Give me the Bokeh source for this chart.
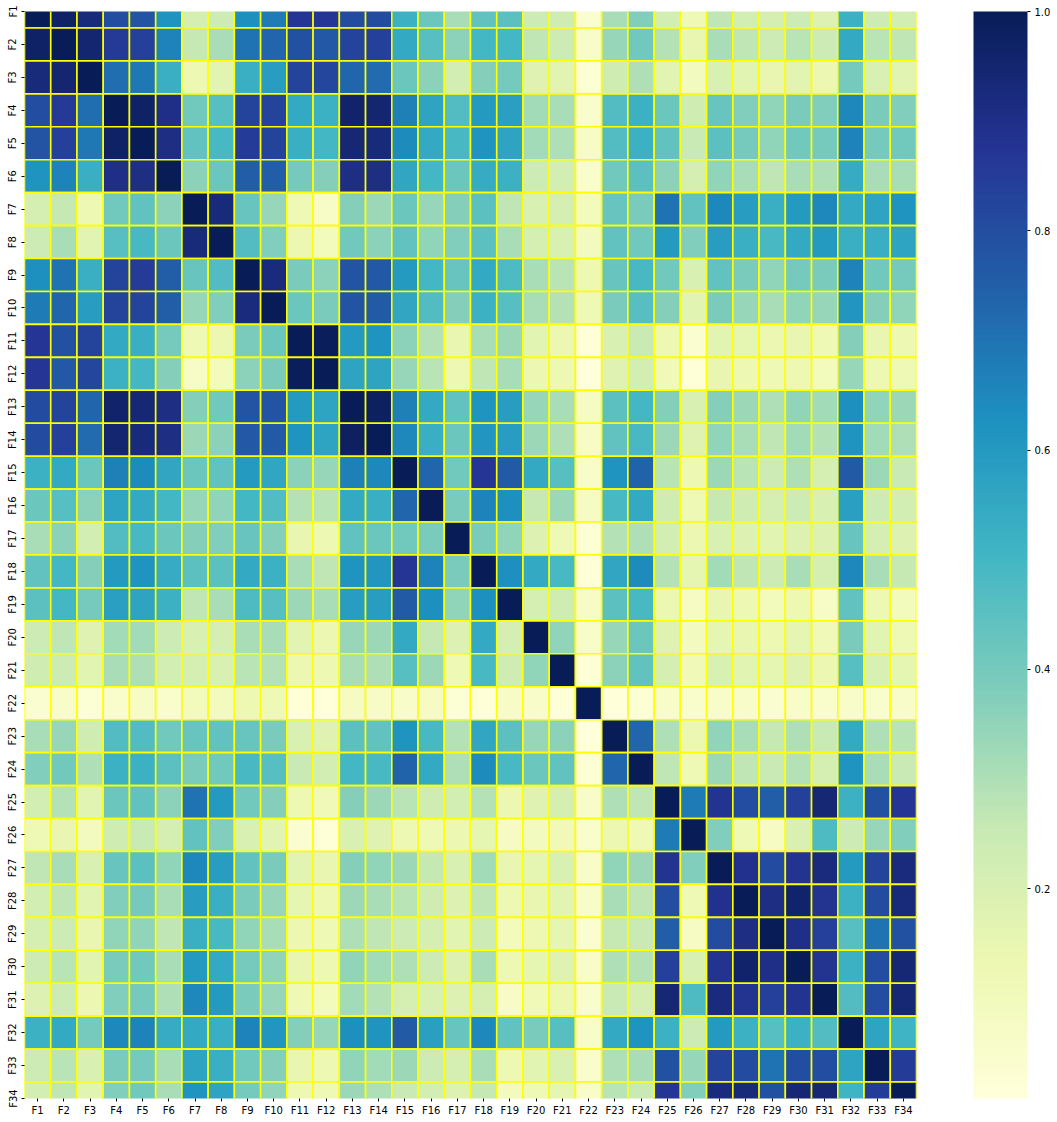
from bokeh.plotting import figure
from bokeh.models import ColumnDataSource, LinearColorMapper, ColorBar, FixedTicker, Range1d, PrintfTickFormatter
from bokeh.embed import file_html
from bokeh.resources import INLINE

labels = [f"F{i}" for i in range(1, 35)]

# upper triangle of the symmetric correlation matrix, each row starting at the diagonal
r01 = [1,.97,.93,.80,.78,.62,.21,.24,.63,.68,.87,.87,.81,.81,.52,.42,.31, .44,.45,.24,.23,.04,.31,.38,.22,.12,.27,.22,.21,.24,.19,.52,.24,.22]
r02 = [1,.95,.86,.84,.66,.26,.31,.70,.73,.79,.77,.83,.84,.55,.46,.36, .50,.50,.27,.24,.06,.34,.41,.29,.15,.31,.27,.24,.28,.24,.55,.28,.27]
r03 = [1,.71,.69,.53,.13,.17,.53,.59,.83,.82,.73,.72,.42,.36,.22, .37,.40,.18,.17,.03,.23,.30,.17,.09,.20,.17,.15,.17,.14,.40,.20,.17]
r04 = [1,.97,.90,.41,.46,.83,.83,.55,.52,.96,.95,.67,.57,.47, .60,.58,.32,.31,.05,.47,.52,.42,.23,.43,.38,.35,.39,.38,.65,.39,.38]
r05 = [1,.91,.44,.49,.85,.83,.53,.50,.94,.93,.64,.55,.49, .62,.57,.32,.30,.07,.47,.52,.44,.25,.45,.40,.35,.41,.40,.66,.40,.41]
r06 = [1,.36,.42,.75,.75,.40,.37,.91,.91,.56,.50,.42, .54,.52,.24,.22,.05,.41,.45,.36,.21,.35,.31,.27,.31,.30,.54,.31,.31]
r07 = [1,.93,.43,.34,.12,.07,.37,.33,.42,.34,.37, .45,.27,.20,.21,.10,.43,.39,.70,.44,.65,.59,.53,.60,.65,.55,.57,.62]
r08 = [1,.47,.38,.14,.10,.41,.36,.44,.35,.38, .45,.31,.21,.20,.09,.44,.41,.60,.38,.59,.53,.49,.55,.60,.53,.53,.57]
r09 = [1,.92,.39,.36,.78,.77,.60,.50,.43, .55,.48,.31,.28,.13,.43,.49,.41,.20,.44,.39,.35,.40,.39,.66,.41,.40]
r10 = [1,.42,.39,.78,.76,.56,.47,.37, .52,.46,.31,.29,.12,.39,.46,.37,.17,.39,.34,.31,.35,.34,.61,.37,.35]
r11 = [1,.99,.60,.62,.36,.29,.15, .31,.33,.17,.14,.02,.20,.25,.13,.04,.17,.16,.14,.15,.12,.37,.15,.13]
r12 = [1,.57,.57,.34,.28,.13, .27,.31,.14,.13,.01,.18,.22,.11,.02,.15,.13,.12,.13,.10,.34,.13,.12]
r13 = [1,.98,.67,.55,.44, .62,.59,.34,.31,.08,.45,.50,.37,.20,.37,.33,.30,.35,.32,.63,.35,.33]
r14 = [1,.65,.53,.42, .61,.59,.33,.30,.07,.44,.49,.33,.18,.35,.31,.27,.32,.29,.62,.32,.30]
r15 = [1,.73,.41, .87,.76,.55,.46,.06,.62,.74,.28,.13,.33,.28,.24,.30,.21,.76,.33,.25]
r16 = [1,.39, .66,.63,.26,.33,.08,.49,.55,.23,.12,.26,.23,.21,.24,.20,.58,.24,.22]
r17 = [1, .39,.35,.19,.12,.03,.29,.30,.22,.14,.20,.19,.17,.19,.19,.43,.21,.19]
r18 = [1,.63,.55,.49,.02,.56,.64,.29,.16,.32,.27,.24,.31,.21,.65,.31,.26]
r19 = [1,.21,.23,.07,.45,.49,.14,.08,.15,.13,.10,.13,.07,.44,.13,.10]
r20 = [1,.35,.06,.34,.42,.18,.09,.16,.15,.13,.16,.11,.39,.17,.12]
r21 = [1,.02,.36,.44,.21,.11,.20,.17,.16,.18,.14,.46,.20,.16]
r22 = [1,.01,.03,.06,.05,.06,.06,.04,.06,.05,.06,.05,.06]
r23 = [1,.73,.30,.14,.35,.31,.26,.30,.25,.55,.30,.28]
r24 = [1,.27,.12,.33,.27,.25,.29,.21,.62,.31,.25]
r25 = [1,.68,.88,.80,.75,.84,.94,.52,.79,.87]
r26 = [1,.38,.12,.08,.20,.48,.24,.34,.38]
r27 = [1,.89,.81,.88,.92,.60,.83,.92]
r28 = [1,.91,.96,.88,.52,.81,.93]
r29 = [1,.90,.84,.46,.70,.79]
r30 = [1,.88,.52,.80,.94]
r31 = [1,.47,.80,.94]
r32 = [1,.57,.51]
r33 = [1,.85]
r34 = [1]
rows = [r01,r02,r03,r04,r05,r06,r07,r08,r09,r10,r11,r12,r13,r14,r15,r16,r17,r18,r19,r20,
        r21,r22,r23,r24,r25,r26,r27,r28,r29,r30,r31,r32,r33,r34]

xs, ys, vals = [], [], []
for i, row in enumerate(rows):
    for k, v in enumerate(row):
        j = i + k
        xs.append(j); ys.append(i); vals.append(v)
        if j != i:
            xs.append(i); ys.append(j); vals.append(v)
src = ColumnDataSource(dict(x=xs, y=ys, v=vals))

# YlGnBu anchors, expanded to a smooth 256-step palette
anchors = ["#ffffd9","#edf8b1","#c7e9b4","#7fcdbb","#41b6c4","#1d91c0","#225ea8","#253494","#081d58"]
def lerp_palette(cols, n=256):
    rgb = [tuple(int(c[i:i+2], 16) for i in (1, 3, 5)) for c in cols]
    out = []
    for s in range(n):
        t = s / (n - 1) * (len(rgb) - 1)
        a = min(int(t), len(rgb) - 2)
        f = t - a
        out.append("#%02x%02x%02x" % tuple(round(rgb[a][c] + (rgb[a+1][c] - rgb[a][c]) * f) for c in range(3)))
    return out

mapper = LinearColorMapper(palette=lerp_palette(anchors), low=0.0085, high=1.0)

p = figure(width=1050, height=1118, output_backend="svg", toolbar_location=None,
           x_range=Range1d(-0.5, 33.5), y_range=Range1d(33, 0),
           min_border_left=24, min_border_top=11, min_border_bottom=20, min_border_right=134,
           outline_line_color=None)
p.grid.visible = False
p.rect(x="x", y="y", width=1, height=1, source=src,
       fill_color={"field": "v", "transform": mapper},
       line_color="#ffff00", line_width=1.6)

positions = list(range(34))
over = {i: labels[i] for i in positions}
for ax in (p.xaxis[0], p.yaxis[0]):
    ax.ticker = FixedTicker(ticks=positions)
    ax.major_label_overrides = over
    ax.axis_line_color = None
    ax.major_tick_in = 0
    ax.major_tick_out = 3
    ax.minor_tick_line_color = None
    ax.major_label_text_font = "DejaVu Sans"
    ax.major_label_text_font_size = "10px"
    ax.major_label_text_color = "#000000"
    ax.major_label_standoff = 3
p.yaxis[0].major_label_orientation = "parallel"

cb = ColorBar(color_mapper=mapper, ticker=FixedTicker(ticks=[0.2, 0.4, 0.6, 0.8, 1.0]),
              formatter=PrintfTickFormatter(format="%.1f"),
              location=(949, 0), width=54, height=1087, margin=0, padding=0,
              major_tick_in=0, major_tick_out=3,
              major_tick_line_color="#000000", bar_line_color=None,
              major_label_text_font="DejaVu Sans", major_label_text_font_size="10px",
              major_label_text_color="#000000", label_standoff=4)
p.add_layout(cb, "center")

open("out.html", "w").write(file_html(p, INLINE))
